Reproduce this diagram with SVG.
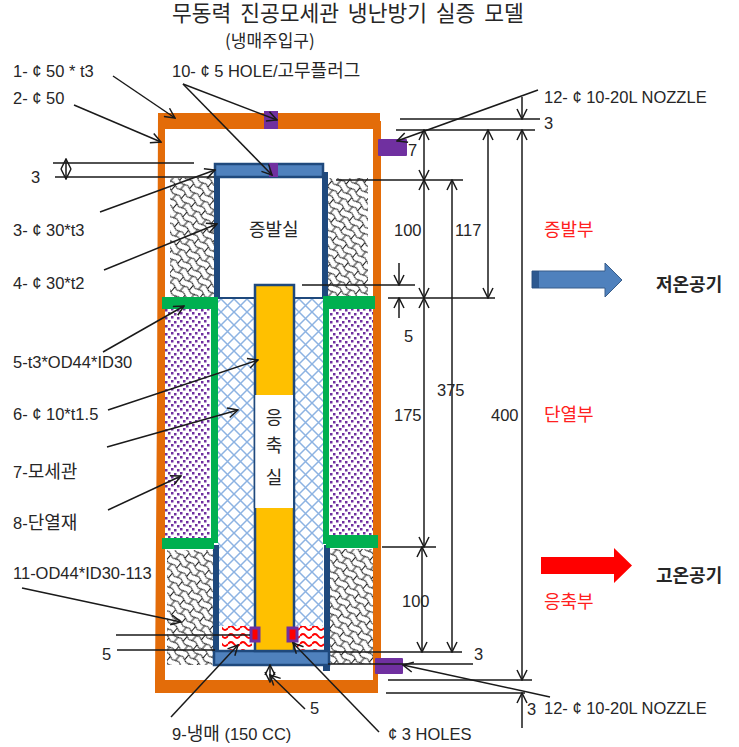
<svg xmlns="http://www.w3.org/2000/svg" width="739" height="747" viewBox="0 0 739 747">
<style>
text{font-family:"Liberation Sans","Noto Sans CJK KR",sans-serif;font-size:16.5px;fill:#262626}
.k,tspan{font-family:"Noto Sans CJK KR","Liberation Sans",sans-serif;font-size:18px}
.red{fill:#ff2020}
.or{fill:#e36c09}
.grn{fill:#00b050}
.pur{fill:#7030a0}
.cap{fill:#4f81bd;stroke:#1f497d;stroke-width:2.5}
.wall{fill:#1f497d}
.ln{stroke:#1a1a1a;stroke-width:1.5;fill:none}
.a{marker-end:url(#ah)}
.d{marker-end:url(#ah);marker-start:url(#ah)}
</style>
<defs>
<marker id="ah" viewBox="0 0 12 12" refX="11" refY="6" markerWidth="12" markerHeight="12" markerUnits="userSpaceOnUse" orient="auto-start-reverse"><path d="M1 1L11 6L1 11" fill="none" stroke="#1a1a1a" stroke-width="1.5"/></marker>
<pattern id="scale" width="13" height="13" patternUnits="userSpaceOnUse" patternTransform="rotate(40)"><path d="M0 3.250q3.250 -2.500 6.500 0t6.500 0M0 9.750q3.250 -2.500 6.500 0t6.500 0M6.500 3.250V9.750M0 9.750V13M0 0V3.250M13 9.750V13M13 0V3.250" fill="none" stroke="#1a1a1a" stroke-width="1"/></pattern>
<pattern id="dots" width="12" height="8" patternUnits="userSpaceOnUse"><g fill="#7030a0"><rect x="0" y="0" width="2.500" height="2.500"/><rect x="6" y="1" width="2.500" height="2.500"/><rect x="3" y="4" width="2.500" height="2.500"/><rect x="9" y="5" width="2.500" height="2.500"/></g></pattern>
<pattern id="mesh" width="13" height="13" patternUnits="userSpaceOnUse"><path d="M0 0L13 13M13 0L0 13" stroke="#8db3e2" stroke-width="1.500"/></pattern>
<pattern id="wave" width="12" height="8" patternUnits="userSpaceOnUse"><path d="M0 4q3 -4 6 0t6 0" fill="none" stroke="#ff0000" stroke-width="2"/></pattern>
</defs>
<rect width="739" height="747" fill="#fff"/>

<g id="insulation-lattice">
<rect x="170" y="178" width="44" height="119" fill="url(#scale)"/>
<rect x="327" y="178" width="41" height="118" fill="url(#scale)"/>
<rect x="167" y="550" width="46" height="115" fill="url(#scale)"/>
<rect x="330" y="549" width="43" height="115" fill="url(#scale)"/>
</g>
<g id="insulation-dots">
<rect x="164" y="309" width="46" height="229" fill="url(#dots)"/>
<rect x="330" y="309" width="43" height="227" fill="url(#dots)"/>
</g>
<g id="capillary">
<rect x="218" y="298" width="36" height="328" fill="url(#mesh)"/>
<rect x="295" y="298" width="28" height="328" fill="url(#mesh)"/>
<rect x="218" y="297" width="106" height="2" fill="#1f497d"/>
</g>
<g id="refrigerant">
<rect x="222" y="626" width="30" height="24" fill="url(#wave)"/>
<rect x="297" y="626" width="29" height="24" fill="url(#wave)"/>
</g>
<g id="outer-shell">
<path class="or" d="M158 113H380V121H381V664H378V693H155V680L157 400L158 113ZM165 129V680H373V129Z" fill-rule="evenodd"/>
</g>
<g id="inner-tube">
<rect class="wall" x="214" y="177" width="6" height="120"/>
<rect class="wall" x="322" y="172" width="6" height="125"/>
<rect class="wall" x="213" y="545" width="6" height="106"/>
<rect class="wall" x="324" y="545" width="6" height="110"/>
<rect class="wall" x="323" y="650" width="7" height="21"/>
</g>
<g id="insulation-collars">
<rect class="grn" x="162" y="297" width="52" height="12"/>
<rect class="grn" x="211" y="297" width="7" height="246"/>
<rect class="grn" x="162" y="538" width="52" height="11"/>
<rect class="grn" x="323" y="296" width="52" height="13"/>
<rect class="grn" x="323" y="296" width="6" height="248"/>
<rect class="grn" x="326" y="535" width="52" height="13"/>
</g>
<g id="top-cap"><rect class="cap" x="215" y="164" width="108" height="13"/></g>
<g id="bottom-cap"><rect class="cap" x="214" y="651" width="115" height="14"/></g>
<g id="condenser-tube">
<rect x="255" y="285" width="39" height="366" fill="#ffc000" stroke="#1f497d" stroke-width="2.500"/>
<rect x="255" y="395" width="38" height="113" fill="#fff"/>
<path d="M254.500 395V508M294 395V508" stroke="#1f497d" stroke-width="1.500"/>
</g>
<g id="holes">
<rect x="251" y="628" width="8" height="13" fill="#ff0000" stroke="#7030a0" stroke-width="3"/>
<rect x="288" y="628" width="9" height="13" fill="#ff0000" stroke="#7030a0" stroke-width="3"/>
</g>
<g id="plugs">
<rect class="pur" x="264" y="111" width="14" height="18"/>
<rect class="pur" x="269" y="163" width="9" height="14"/>
<rect class="pur" x="378" y="139" width="29" height="17" rx="1"/>
<rect class="pur" x="375" y="658" width="28" height="16" rx="1"/>
</g>
<g id="outlet-arrows">
<path d="M532 271H605V263L622 280L605 297V288H532Z" fill="#4f81bd" stroke="#385d8a"/>
<rect x="532" y="271" width="7" height="17" fill="#1f497d" opacity=".7"/>
<path d="M541 557H614V548L632 565.500L614 583V574H541Z" fill="#ff0000"/>
</g>

<g id="connectors">
<path class="ln a" d="M113 76L175 118"/>
<path class="ln a" d="M74 105L161 142"/>
<path class="ln a" d="M100 212L215 170"/>
<path class="ln a" d="M104 270L217 224"/>
<path class="ln a" d="M103 352L184 306"/>
<path class="ln a" d="M108 410L258 360"/>
<path class="ln a" d="M107 447L238 410"/>
<path class="ln a" d="M108 510L181 476"/>
<path class="ln a" d="M22 588L181 622"/>
<path class="ln a" d="M183 84L277 120"/>
<path class="ln a" d="M183 84L272 175"/>
<path class="ln a" d="M171 717L238 645"/>
<path class="ln a" d="M379 732L293 643"/>
<path class="ln a" d="M305 709L270 675"/>
<path class="ln a" d="M538 90L397 141"/>
<path class="ln a" d="M550 697L403 665"/>
<path class="ln" d="M53 163H194M55 177H214M336 180H463M302 285H415M388 298H495M396 130H535M400 119H540M382 547H436M330 652H462M328 664H473M388 680H532M386 693H525M116 635H250M117 650H215"/>
<path class="ln d" d="M66 159V179"/>
<path class="ln d" d="M270 665V682"/>
<path class="ln d" d="M424 130V180"/>
<path class="ln d" d="M424 180V298"/>
<path class="ln d" d="M424 298V547"/>
<path class="ln d" d="M422 547V652"/>
<path class="ln d" d="M452 180V652"/>
<path class="ln d" d="M488 130V298"/>
<path class="ln d" d="M522 130V680"/>
<path class="ln a" d="M522 97V119"/>
<path class="ln a" d="M522 728V693"/>
<path class="ln a" d="M399 263V285"/>
<path class="ln a" d="M399 318V298"/>
</g>

<g id="labels">
<text x="172" y="21" class="k" style="font-size:21.500px;word-spacing:4px">무동력 진공모세관 냉난방기 실증 모델</text>
<text x="225" y="47" class="k" style="font-size:17px">(냉매주입구)</text>
<text x="13" y="77">1-  ¢ 50 * t3</text>
<text x="13" y="104">2- ¢ 50</text>
<text x="172" y="77">10- ¢ 5 HOLE/<tspan>고무플러그</tspan></text>
<text x="31" y="183">3</text>
<text x="13" y="236">3- ¢  30*t3</text>
<text x="13" y="289">4- ¢ 30*t2</text>
<text x="13" y="368">5-t3*OD44*ID30</text>
<text x="13" y="420">6- ¢ 10*t1.5</text>
<text x="13" y="478">7-<tspan>모세관</tspan></text>
<text x="13" y="529">8-<tspan>단열재</tspan></text>
<text x="13" y="579">11-OD44*ID30-113</text>
<text x="102" y="660">5</text>
<text x="172" y="740">9-<tspan>냉매</tspan> (150 CC)</text>
<text x="310" y="714">5</text>
<text x="388" y="740">¢ 3 HOLES</text>
<text x="249" y="236" class="k">증발실</text>
<text x="274" y="424" class="k" text-anchor="middle">응</text>
<text x="274" y="452" class="k" text-anchor="middle">축</text>
<text x="274" y="484" class="k" text-anchor="middle">실</text>
<text x="544" y="103">12- ¢ 10-20L NOZZLE</text>
<text x="544" y="129">3</text>
<text x="408" y="156">7</text>
<text x="394" y="236">100</text>
<text x="455" y="236">117</text>
<text x="404" y="342">5</text>
<text x="394" y="421">175</text>
<text x="437" y="396">375</text>
<text x="491" y="421">400</text>
<text x="402" y="607">100</text>
<text x="474" y="660">3</text>
<text x="527" y="715">3</text>
<text x="544" y="714">12- ¢ 10-20L NOZZLE</text>
<text x="544" y="236" class="k red">증발부</text>
<text x="544" y="421" class="k red">단열부</text>
<text x="544" y="608" class="k red">응축부</text>
<text x="656" y="291" class="k" style="font-weight:700">저온공기</text>
<text x="656" y="582" class="k" style="font-weight:700">고온공기</text>
</g>
</svg>
